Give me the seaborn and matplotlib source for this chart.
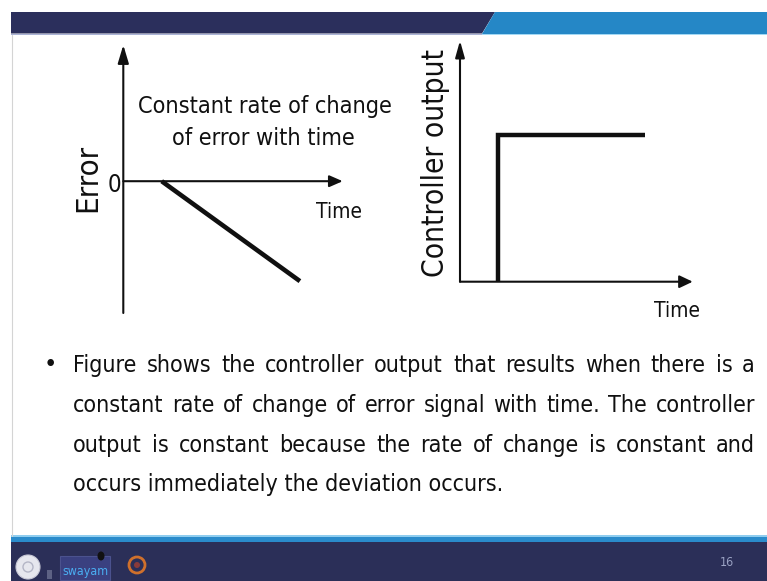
import matplotlib
matplotlib.use("Agg")
import matplotlib.pyplot as plt
from matplotlib import font_manager
from matplotlib.font_manager import FontProperties
from matplotlib.patches import Polygon, Rectangle, Circle, Ellipse
import seaborn as sns

# ---------------- data ----------------
# error signal: zero, then falling at a constant rate
error_time = [1.75, 8.05]
error_value = [0.0, -4.55]
# controller output: a step that then stays constant
output_time = [1.65, 1.65, 7.95]
output_value = [0.0, 6.1, 6.1]

error_title = ["Constant rate of change", "of error with time"]
error_ylabel = "Error"
error_zero_label = "0"
time_label = "Time"
output_ylabel = "Controller output"

bullet_lines = [
    "Figure shows the controller output that results when there is a",
    "constant rate of change of error signal with time. The controller",
    "output is constant because the rate of change is constant and",
    "occurs immediately the deviation occurs.",
]
page_number = "16"

# ---------------- styling ----------------
W, H, DPI = 767, 581, 100
INK = "#101010"
NAVY = "#2b2f5c"
BLUE = "#2587c6"

sns.set_style("white")
available = {f.name for f in font_manager.fontManager.ttflist}
family = [f for f in ["Lato", "DejaVu Sans"] if f in available]
plt.rcParams["font.family"] = family


def pick_narrow_font():
    """Prefer a regular-weight narrow/condensed face when one is installed."""
    best = None
    for f in font_manager.fontManager.ttflist:
        if f.style != "normal":
            continue
        if f.weight not in (400, "normal", "regular"):
            continue
        name = f.name
        narrow = ("Narrow" in name or "Condensed" in name
                  or str(f.stretch) in ("condensed", "semi-condensed"))
        if not narrow:
            continue
        rank = 0 if "Liberation" in name else 1 if "Noto" in name else 2 if "Open" in name else 3
        if "Semi" in name or str(f.stretch) == "semi-condensed":
            rank += 0.5
        if best is None or rank < best[0]:
            best = (rank, f.fname)
    return FontProperties(fname=best[1]) if best else FontProperties(family=family)


FONT = pick_narrow_font()

fig = plt.figure(figsize=(W / DPI, H / DPI), dpi=DPI)
fig.patch.set_facecolor("white")

# full-page canvas in pixel units (y grows downwards)
bg = fig.add_axes([0, 0, 1, 1])
bg.set_xlim(0, W)
bg.set_ylim(H, 0)
bg.set_axis_off()

renderer = fig.canvas.get_renderer()


def put(x, y, s, size, **kw):
    fp = FONT.copy()
    fp.set_size(size)
    kw.setdefault("color", INK)
    return bg.text(x, y, s, fontproperties=fp, **kw)


def text_width(s, size):
    t = put(0, 0, s, size)
    w = t.get_window_extent(renderer).width
    t.remove()
    return w


def fit_size(s, width):
    return 20.0 * width / text_width(s, 20.0)


def px_axes(left, top, right, bottom):
    return fig.add_axes([left / W, 1 - bottom / H, (right - left) / W, (bottom - top) / H])


def axis_arrow(ax, start, end, head_len, head_half):
    ax.annotate(
        "", xy=end, xytext=start, xycoords="data", textcoords="data",
        arrowprops=dict(arrowstyle=f"-|>,head_length={head_len},head_width={head_half}",
                        mutation_scale=1, lw=1.5, color=INK, shrinkA=0, shrinkB=0),
        annotation_clip=False,
    )


# ---------------- slide frame ----------------
bg.add_patch(Polygon([(11, 12), (495, 12), (482, 33.5), (11, 33.5)], closed=True, fc=NAVY, ec="none"))
bg.add_patch(Polygon([(495, 12), (W, 12), (W, 33.5), (482, 33.5)], closed=True, fc=BLUE, ec="none"))
bg.add_patch(Rectangle((11, 33.5), 471, 1.6, fc="#aab3d6", ec="none"))
bg.add_patch(Rectangle((482, 33.5), W - 482, 1.6, fc="#a2d8f4", ec="none"))
bg.plot([11.5, 11.5], [35, 536], color="#d4d4d4", lw=0.8)

bg.add_patch(Rectangle((11, 535.3), W - 11, 1.7, fc="#8fcdef", ec="none"))
bg.add_patch(Rectangle((11, 537), W - 11, 4.5, fc="#2a8bcb", ec="none"))
bg.add_patch(Rectangle((11, 541.5), W - 11, H - 541.5, fc="#2b2f58", ec="none"))

# footer logos
bg.add_patch(Circle((28, 567), 12, fc="#e6e7ee", ec="#c8c9d6", lw=0.8))
bg.add_patch(Circle((28, 567), 5, fc="none", ec="#b4b6c6", lw=1.0))
bg.add_patch(Rectangle((47, 570), 5, 9, fc="#5d6284", ec="none"))
bg.add_patch(Rectangle((60, 556), 50, 24, fc="#3a4080", ec="#4b528e", lw=0.8))
put(85, 575, "swayam", fit_size("swayam", 46), ha="center", va="baseline",
    color="#4aaef2", fontweight="bold")
bg.add_patch(Ellipse((101, 556), 7, 9, fc="#111111", ec="none"))
bg.add_patch(Circle((137, 565), 8, fc="none", ec="#d0702c", lw=2.0))
bg.add_patch(Circle((137, 565), 3, fc="#8a3a3a", ec="none"))
put(727, 563, page_number, 9, ha="center", va="center", color="#9ba3c4")

# ---------------- left diagram: error vs time ----------------
axL = px_axes(123.3, 45, 342.7, 313)
sns.lineplot(x=error_time, y=error_value, ax=axL, color=INK, linewidth=3.3,
             estimator=None, sort=False, solid_capstyle="butt")
axL.set_xlim(0, 10)
axL.set_ylim(-6.0, 6.2)
axL.set_axis_off()
axis_arrow(axL, (0, -6.0), (0, 6.2), 11, 3.3)
axis_arrow(axL, (0, 0), (10, 0), 8, 3.5)

# ---------------- right diagram: controller output vs time ----------------
axR = px_axes(460, 40.7, 692.7, 281.7)
sns.lineplot(x=output_time, y=output_value, ax=axR, color=INK, linewidth=3.2,
             estimator=None, sort=False, solid_capstyle="butt", solid_joinstyle="miter")
axR.set_xlim(0, 10)
axR.set_ylim(0, 10)
axR.set_axis_off()
axis_arrow(axR, (0, 0), (0, 10), 10, 2.8)
axis_arrow(axR, (0, 0), (10, 0), 8, 3.8)

# ---------------- diagram labels ----------------
title_size = fit_size(error_title[0], 255)
put(264.5, 113, error_title[0], title_size, ha="center", va="baseline")
put(263.5, 145, error_title[1], title_size, ha="center", va="baseline")

time_size = fit_size(time_label, 46)
put(339.5, 218, time_label, time_size, ha="center", va="baseline")
put(676.5, 317, time_label, time_size, ha="center", va="baseline")
put(121.7, 192, error_zero_label, time_size * 1.15, ha="right", va="baseline")

put(87.5, 178, error_ylabel, fit_size(error_ylabel, 68), ha="center", va="center", rotation=90)
put(436, 163, output_ylabel, fit_size(output_ylabel, 228), ha="center", va="center", rotation=90)

# ---------------- justified bullet paragraph ----------------
x_left, x_right = 73.3, 755.0
baselines = [372, 412, 452, 491]

# body size: balance the ragged last line width against tight spacing on line one
size_last = fit_size(bullet_lines[-1], 422)
first_words = bullet_lines[0].split(" ")
ink20 = sum(text_width(w, 20.0) for w in first_words)
size_first = 20.0 * (x_right - x_left - 9.0 * (len(first_words) - 1)) / ink20
body_size = 0.5 * (size_last + size_first)

put(50, baselines[0], "\u2022", body_size * 1.1, ha="center", va="baseline")
for i, (line, yb) in enumerate(zip(bullet_lines, baselines)):
    if i == len(bullet_lines) - 1:
        put(x_left, yb, line, body_size, ha="left", va="baseline")
        continue
    words = line.split(" ")
    widths = [text_width(w, body_size) for w in words]
    gap = (x_right - x_left - sum(widths)) / (len(words) - 1)
    x = x_left
    for w, ww in zip(words, widths):
        put(x, yb, w, body_size, ha="left", va="baseline")
        x += ww + gap

fig.savefig("out.png", dpi=DPI, facecolor="white")
